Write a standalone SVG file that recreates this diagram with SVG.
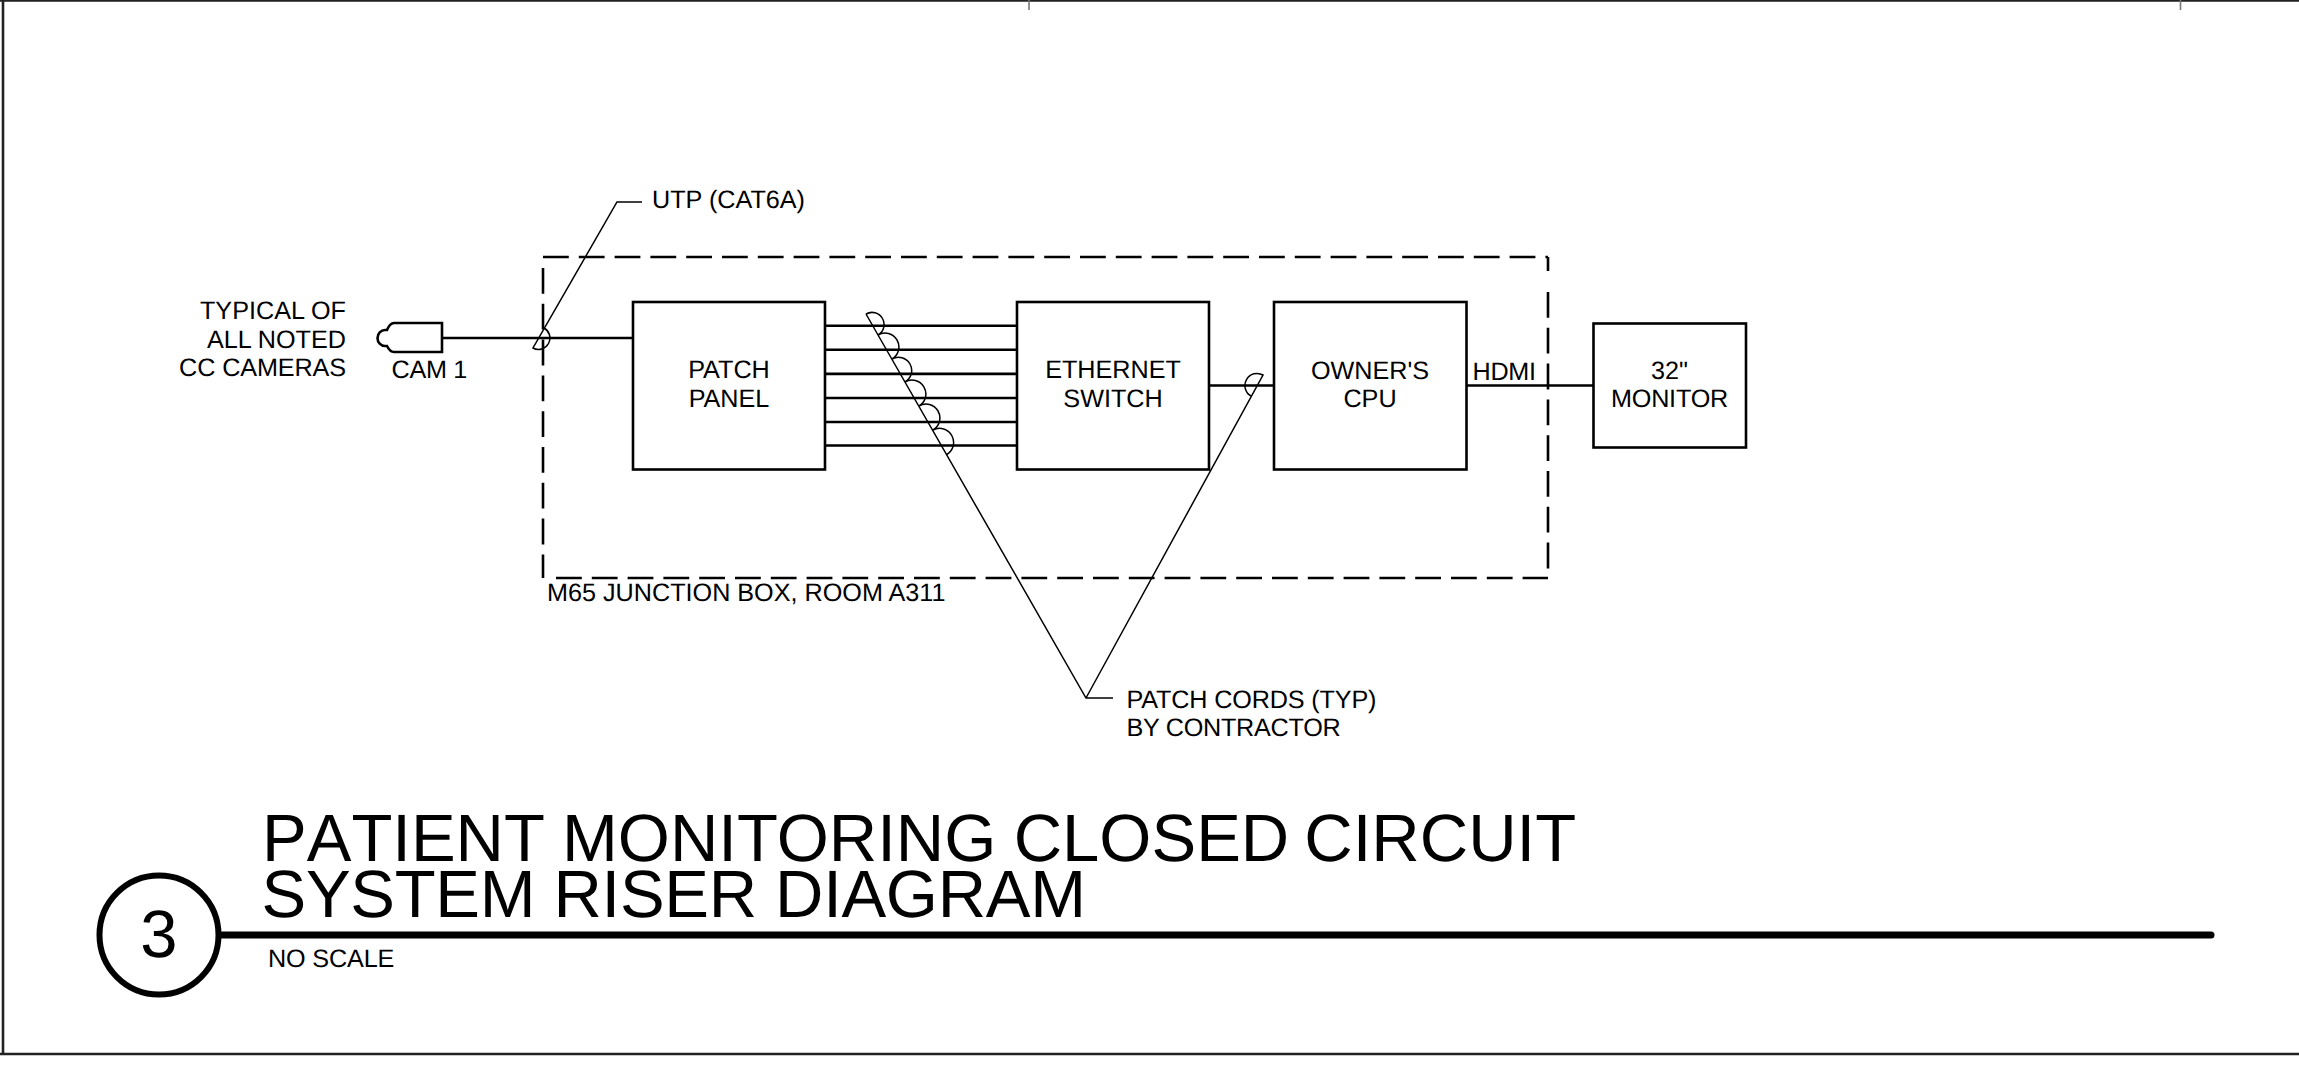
<svg xmlns="http://www.w3.org/2000/svg" width="2299" height="1065" viewBox="0 0 2299 1065">
<style>
text{font-family:"Liberation Sans",Arial,sans-serif;font-size:25.200px;fill:#000;text-rendering:geometricPrecision}
.m{text-anchor:middle}.e{text-anchor:end}
.t{font-size:67px}
.box{fill:#fff;stroke:#000;stroke-width:2.6}
.w{fill:none;stroke:#000;stroke-width:2.6}
.l{fill:none;stroke:#000;stroke-width:1.5}
.d{fill:none;stroke:#000;stroke-width:2.6;stroke-dasharray:25.800 10}
</style>
<rect width="2299" height="1065" fill="#fff"/>
<g id="frame" fill="none" stroke="#222">
<path d="M0 .5H2299M3 0V1054M0 1054H2299" stroke-width="2.6"/>
<path d="M1029 0V10M2180.500 0V10" stroke="#777" stroke-width="1.6"/>
</g>
<g id="connectors">
<path class="w" d="M442 338H633M825 325.700H1017M825 349.800H1017M825 373.900H1017M825 398H1017M825 422H1017M825 445.500H1017M1209 385.500H1274M1467 385.500H1594"/>
<path class="l" d="M642 202H617L533 348A11 11 0 0 0 544 328"/>
<path class="l" d="M866 314A11 11 0 0 1 878 335A11 11 0 0 1 892 359A11 11 0 0 1 905 382A11 11 0 0 1 919 406A11 11 0 0 1 933 430A11 11 0 0 1 946 455M866 314L1086 698H1113M1086 698L1263 375A11 11 0 0 0 1251 396"/>
</g>
<g id="junction-box">
<path class="d" d="M543 257H1548"/>
<path class="d" d="M556 578H1548"/>
<path class="d" d="M543 268V578"/>
<path class="d" d="M1548 292V578"/>
<path class="w" d="M1548 257V271"/>
<text x="547" y="601">M65 JUNCTION BOX, ROOM A311</text>
</g>
<g id="camera">
<path class="w" d="M442 323H394Q390 323 387 330H385A7.500 8 0 0 0 385 346H387Q390 352 394 352H442Z" fill="#fff"/>
<text x="391.500" y="378" style="letter-spacing:-.3px">CAM 1</text>
<text class="e" x="346" y="319">TYPICAL OF</text>
<text class="e" x="346" y="348">ALL NOTED</text>
<text class="e" x="346" y="376" style="letter-spacing:-.1px">CC CAMERAS</text>
</g>
<g id="patch-panel">
<rect class="box" x="633" y="302" width="192" height="167.500"/>
<text class="m" x="729" y="378">PATCH</text>
<text class="m" x="729" y="407">PANEL</text>
</g>
<g id="ethernet-switch">
<rect class="box" x="1017" y="302" width="192" height="167.500"/>
<text class="m" x="1113" y="378">ETHERNET</text>
<text class="m" x="1113" y="407">SWITCH</text>
</g>
<g id="owners-cpu">
<rect class="box" x="1274" y="302" width="192.500" height="167.500"/>
<text class="m" x="1370" y="379">OWNER'S</text>
<text class="m" x="1370" y="407">CPU</text>
</g>
<g id="hdmi-label"><text x="1472.500" y="380" style="letter-spacing:-.3px">HDMI</text></g>
<g id="monitor">
<rect class="box" x="1593.500" y="323.500" width="152.500" height="124"/>
<text class="m" x="1669.500" y="379">32"</text>
<text class="m" x="1669.500" y="407" style="letter-spacing:-.2px">MONITOR</text>
</g>
<g id="labels">
<text x="652" y="208">UTP (CAT6A)</text>
<text x="1126.500" y="708" style="letter-spacing:-.15px">PATCH CORDS (TYP)</text>
<text x="1126.500" y="736" style="letter-spacing:-.27px">BY CONTRACTOR</text>
</g>
<g id="title">
<text class="t" x="262" y="861"><tspan style="font-kerning:none">PATIENT </tspan><tspan dx="-1.500">MONITORING </tspan><tspan dx="-1.200">CLOSED </tspan><tspan dx="-3.500">CIRCUIT</tspan></text>
<text class="t" x="261.500" y="917" style="letter-spacing:-.3px">SYSTEM RISER DIAGRAM</text>
<circle cx="159" cy="935" r="59.500" fill="none" stroke="#000" stroke-width="6"/>
<text class="m t" x="159" y="957">3</text>
<path d="M221 935H2211" stroke="#000" stroke-width="7" stroke-linecap="round" fill="none"/>
<text x="268" y="967" style="letter-spacing:-.15px">NO SCALE</text>
</g>
</svg>
